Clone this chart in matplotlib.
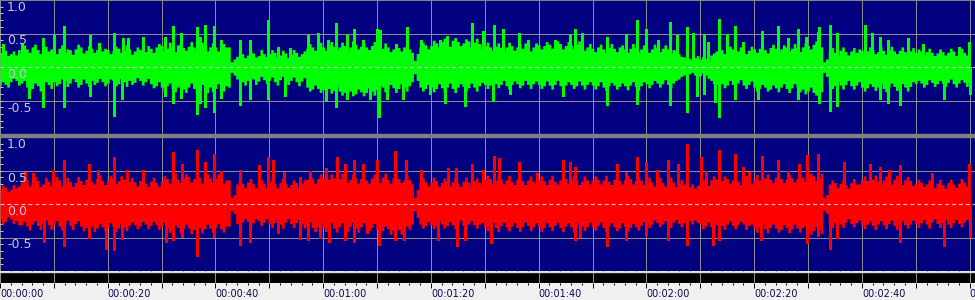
import numpy as np
import matplotlib.pyplot as plt
from matplotlib.patches import Rectangle

plt.rcParams['font.family'] = ['DejaVu Sans']
plt.rcParams['lines.scale_dashes'] = False

# envelope: one value on each whole second (0..180 s)
# and one on each half second in between (0.5..179.5 s)
seconds = np.arange(181)
half_seconds = np.arange(180) + 0.5

green_upper = [
    0.22, 0.25, 0.2, 0.18, 0.2, 0.27, 0.3, 0.26, 0.28, 0.24,
    0.25, 0.28, 0.22, 0.26, 0.27, 0.3, 0.25, 0.28, 0.26, 0.24,
    0.26, 0.24, 0.28, 0.25, 0.27, 0.24, 0.26, 0.23, 0.28, 0.3,
    0.32, 0.28, 0.3, 0.33, 0.29, 0.31, 0.3, 0.28, 0.32, 0.3,
    0.3, 0.28, 0.3, 0.08, 0.16, 0.2, 0.18, 0.21, 0.17, 0.2,
    0.2, 0.22, 0.18, 0.21, 0.19, 0.22, 0.2, 0.28, 0.3, 0.32,
    0.3, 0.33, 0.31, 0.3, 0.32, 0.3, 0.34, 0.31, 0.3, 0.32,
    0.3, 0.28, 0.3, 0.27, 0.29, 0.3, 0.27, 0.1, 0.3, 0.33,
    0.32, 0.36, 0.38, 0.37, 0.4, 0.38, 0.36, 0.39, 0.37, 0.35,
    0.32, 0.3, 0.31, 0.29, 0.3, 0.32, 0.3, 0.28, 0.31, 0.3,
    0.33, 0.32, 0.34, 0.33, 0.35, 0.32, 0.33, 0.34, 0.32, 0.3,
    0.28, 0.3, 0.27, 0.29, 0.28, 0.3, 0.27, 0.28, 0.29, 0.27,
    0.28, 0.27, 0.29, 0.28, 0.27, 0.26, 0.2, 0.15, 0.13, 0.14,
    0.12, 0.13, 0.18, 0.24, 0.26, 0.25, 0.27, 0.24, 0.26, 0.25,
    0.27, 0.28, 0.26, 0.29, 0.28, 0.27, 0.3, 0.28, 0.29, 0.3,
    0.32, 0.34, 0.33, 0.08, 0.24, 0.22, 0.25, 0.23, 0.24, 0.22,
    0.25, 0.24, 0.26, 0.23, 0.25, 0.26, 0.24, 0.25, 0.23, 0.24,
    0.22, 0.24, 0.23, 0.22, 0.21, 0.23, 0.22, 0.24, 0.23, 0.22, 0.24,
]
green_upper_half = [
    0.3, 0.17, 0.24, 0.26, 0.33, 0.22, 0.34, 0.2, 0.31, 0.27,
    0.2, 0.33, 0.27, 0.19, 0.34, 0.21, 0.32, 0.22, 0.3, 0.28,
    0.2, 0.31, 0.22, 0.33, 0.19, 0.3, 0.2, 0.32, 0.22, 0.35,
    0.24, 0.37, 0.23, 0.36, 0.25, 0.38, 0.22, 0.37, 0.24, 0.36,
    0.24, 0.35, 0.3, 0.12, 0.24, 0.14, 0.25, 0.15, 0.26, 0.16,
    0.26, 0.15, 0.25, 0.14, 0.26, 0.16, 0.24, 0.35, 0.25, 0.37,
    0.25, 0.38, 0.26, 0.37, 0.25, 0.39, 0.27, 0.36, 0.26, 0.38,
    0.24, 0.36, 0.23, 0.35, 0.24, 0.34, 0.22, 0.2, 0.37, 0.27,
    0.4, 0.3, 0.43, 0.31, 0.44, 0.32, 0.42, 0.3, 0.43, 0.28,
    0.37, 0.25, 0.36, 0.24, 0.37, 0.25, 0.35, 0.36, 0.24, 0.36,
    0.27, 0.38, 0.28, 0.39, 0.27, 0.38, 0.28, 0.39, 0.25, 0.35,
    0.23, 0.34, 0.22, 0.35, 0.23, 0.33, 0.22, 0.35, 0.23, 0.33,
    0.22, 0.34, 0.23, 0.33, 0.21, 0.24, 0.16, 0.18, 0.1, 0.17,
    0.16, 0.1, 0.21, 0.3, 0.2, 0.31, 0.21, 0.3, 0.2, 0.31,
    0.22, 0.33, 0.21, 0.34, 0.22, 0.33, 0.24, 0.35, 0.23, 0.36,
    0.27, 0.39, 0.3, 0.12, 0.29, 0.17, 0.3, 0.18, 0.29, 0.27,
    0.19, 0.3, 0.2, 0.3, 0.19, 0.31, 0.2, 0.3, 0.18, 0.29,
    0.27, 0.18, 0.28, 0.17, 0.27, 0.18, 0.28, 0.17, 0.28, 0.18,
]
green_lower = [
    -0.28, -0.26, -0.22, -0.2, -0.24, -0.3, -0.32, -0.28, -0.3, -0.26,
    -0.22, -0.25, -0.2, -0.24, -0.22, -0.26, -0.24, -0.2, -0.23, -0.22,
    -0.24, -0.2, -0.25, -0.22, -0.2, -0.23, -0.2, -0.22, -0.25, -0.28,
    -0.3, -0.28, -0.32, -0.3, -0.33, -0.3, -0.32, -0.34, -0.33, -0.3,
    -0.32, -0.3, -0.28, -0.08, -0.18, -0.22, -0.2, -0.18, -0.21, -0.19,
    -0.2, -0.22, -0.19, -0.21, -0.2, -0.22, -0.21, -0.3, -0.33, -0.32,
    -0.34, -0.32, -0.35, -0.36, -0.38, -0.36, -0.4, -0.37, -0.38, -0.36,
    -0.34, -0.3, -0.33, -0.31, -0.32, -0.3, -0.28, -0.1, -0.3, -0.32,
    -0.3, -0.32, -0.31, -0.3, -0.32, -0.3, -0.29, -0.31, -0.3, -0.28,
    -0.26, -0.27, -0.25, -0.26, -0.28, -0.26, -0.25, -0.27, -0.26, -0.25,
    -0.26, -0.28, -0.27, -0.26, -0.28, -0.27, -0.26, -0.28, -0.27, -0.26,
    -0.27, -0.28, -0.3, -0.28, -0.27, -0.29, -0.28, -0.27, -0.29, -0.28,
    -0.25, -0.26, -0.24, -0.25, -0.26, -0.24, -0.18, -0.12, -0.1, -0.12,
    -0.13, -0.12, -0.2, -0.26, -0.25, -0.27, -0.26, -0.24, -0.27, -0.26,
    -0.3, -0.32, -0.3, -0.33, -0.31, -0.3, -0.32, -0.31, -0.3, -0.33,
    -0.36, -0.38, -0.37, -0.08, -0.26, -0.28, -0.27, -0.26, -0.28, -0.27,
    -0.3, -0.31, -0.29, -0.3, -0.32, -0.3, -0.29, -0.31, -0.3, -0.29,
    -0.25, -0.24, -0.26, -0.23, -0.25, -0.24, -0.23, -0.25, -0.24, -0.23, -0.24,
]
green_lower_half = [
    -0.22, -0.3, -0.17, -0.27, -0.2, -0.35, -0.24, -0.36, -0.22, -0.32,
    -0.28, -0.18, -0.29, -0.17, -0.3, -0.18, -0.29, -0.26, -0.17, -0.28,
    -0.18, -0.28, -0.17, -0.29, -0.26, -0.16, -0.27, -0.17, -0.31, -0.22,
    -0.36, -0.24, -0.37, -0.25, -0.38, -0.24, -0.39, -0.26, -0.38, -0.37,
    -0.25, -0.36, -0.3, -0.12, -0.14, -0.27, -0.15, -0.26, -0.14, -0.25,
    -0.15, -0.27, -0.14, -0.26, -0.15, -0.28, -0.16, -0.36, -0.27, -0.38,
    -0.28, -0.39, -0.29, -0.42, -0.3, -0.43, -0.33, -0.43, -0.31, -0.42,
    -0.27, -0.37, -0.26, -0.38, -0.25, -0.36, -0.22, -0.2, -0.36, -0.26,
    -0.37, -0.25, -0.37, -0.24, -0.38, -0.25, -0.36, -0.24, -0.36, -0.23,
    -0.32, -0.21, -0.31, -0.2, -0.33, -0.21, -0.31, -0.2, -0.32, -0.21,
    -0.32, -0.21, -0.33, -0.2, -0.33, -0.22, -0.32, -0.21, -0.33, -0.22,
    -0.33, -0.22, -0.35, -0.23, -0.33, -0.24, -0.34, -0.22, -0.35, -0.22,
    -0.31, -0.2, -0.3, -0.19, -0.31, -0.2, -0.14, -0.16, -0.08, -0.16,
    -0.09, -0.17, -0.25, -0.21, -0.31, -0.2, -0.32, -0.19, -0.32, -0.21,
    -0.36, -0.26, -0.36, -0.27, -0.37, -0.25, -0.38, -0.25, -0.37, -0.4,
    -0.3, -0.42, -0.37, -0.14, -0.32, -0.21, -0.33, -0.2, -0.33, -0.22,
    -0.36, -0.25, -0.35, -0.24, -0.37, -0.24, -0.35, -0.25, -0.36, -0.22,
    -0.2, -0.3, -0.19, -0.29, -0.2, -0.29, -0.18, -0.3, -0.19, -0.29,
]
red_upper = [
    0.23, 0.25, 0.22, 0.24, 0.33, 0.36, 0.32, 0.35, 0.3, 0.34,
    0.33, 0.36, 0.31, 0.34, 0.32, 0.35, 0.37, 0.34, 0.38, 0.35,
    0.36, 0.39, 0.35, 0.37, 0.34, 0.33, 0.35, 0.31, 0.34, 0.32,
    0.34, 0.38, 0.4, 0.37, 0.39, 0.41, 0.38, 0.4, 0.37, 0.39,
    0.38, 0.4, 0.36, 0.1, 0.3, 0.31, 0.33, 0.3, 0.32, 0.31,
    0.33, 0.3, 0.32, 0.31, 0.29, 0.32, 0.31, 0.37, 0.39, 0.38,
    0.4, 0.37, 0.39, 0.38, 0.4, 0.37, 0.39, 0.38, 0.36, 0.39,
    0.38, 0.4, 0.37, 0.39, 0.38, 0.36, 0.37, 0.1, 0.32, 0.34,
    0.33, 0.35, 0.32, 0.34, 0.33, 0.31, 0.34, 0.33, 0.35, 0.32,
    0.36, 0.38, 0.35, 0.37, 0.36, 0.34, 0.37, 0.35, 0.36, 0.34,
    0.36, 0.35, 0.37, 0.34, 0.36, 0.38, 0.35, 0.37, 0.34, 0.36,
    0.35, 0.37, 0.36, 0.34, 0.37, 0.35, 0.36, 0.38, 0.35, 0.36,
    0.34, 0.33, 0.35, 0.32, 0.34, 0.33, 0.31, 0.3, 0.26, 0.24,
    0.3, 0.34, 0.36, 0.37, 0.35, 0.38, 0.36, 0.34, 0.37, 0.35,
    0.38, 0.36, 0.39, 0.37, 0.4, 0.38, 0.37, 0.39, 0.38, 0.4,
    0.4, 0.42, 0.39, 0.1, 0.3, 0.32, 0.31, 0.29, 0.32, 0.3,
    0.36, 0.35, 0.37, 0.34, 0.36, 0.35, 0.37, 0.34, 0.36, 0.35,
    0.31, 0.33, 0.3, 0.32, 0.31, 0.29, 0.32, 0.3, 0.31, 0.33, 0.32,
]
red_upper_half = [
    0.28, 0.19, 0.29, 0.27, 0.4, 0.27, 0.41, 0.26, 0.4, 0.28,
    0.41, 0.27, 0.4, 0.26, 0.41, 0.29, 0.42, 0.3, 0.43, 0.29,
    0.43, 0.3, 0.42, 0.31, 0.4, 0.27, 0.41, 0.26, 0.4, 0.27,
    0.42, 0.31, 0.46, 0.32, 0.45, 0.33, 0.46, 0.31, 0.45, 0.33,
    0.45, 0.31, 0.36, 0.14, 0.36, 0.25, 0.38, 0.24, 0.37, 0.25,
    0.37, 0.24, 0.38, 0.25, 0.36, 0.24, 0.36, 0.44, 0.31, 0.45,
    0.32, 0.45, 0.31, 0.46, 0.32, 0.45, 0.31, 0.44, 0.31, 0.45,
    0.32, 0.46, 0.31, 0.45, 0.32, 0.44, 0.3, 0.22, 0.39, 0.27,
    0.4, 0.27, 0.39, 0.27, 0.4, 0.26, 0.4, 0.27, 0.39, 0.26,
    0.43, 0.3, 0.42, 0.3, 0.43, 0.29, 0.43, 0.29, 0.42, 0.3,
    0.42, 0.29, 0.43, 0.3, 0.42, 0.31, 0.43, 0.29, 0.42, 0.3,
    0.42, 0.3, 0.43, 0.29, 0.42, 0.3, 0.43, 0.3, 0.41, 0.29,
    0.4, 0.27, 0.4, 0.27, 0.4, 0.26, 0.37, 0.24, 0.3, 0.28,
    0.37, 0.28, 0.42, 0.3, 0.42, 0.31, 0.42, 0.29, 0.43, 0.3,
    0.44, 0.31, 0.45, 0.32, 0.46, 0.32, 0.44, 0.33, 0.45, 0.34,
    0.46, 0.35, 0.46, 0.14, 0.36, 0.25, 0.37, 0.24, 0.38, 0.3,
    0.42, 0.29, 0.43, 0.29, 0.42, 0.3, 0.43, 0.29, 0.41, 0.28,
    0.37, 0.26, 0.36, 0.25, 0.37, 0.24, 0.37, 0.25, 0.38, 0.27,
]
red_lower = [
    -0.24, -0.26, -0.22, -0.25, -0.31, -0.33, -0.3, -0.32, -0.29, -0.31,
    -0.31, -0.33, -0.3, -0.32, -0.29, -0.33, -0.35, -0.33, -0.36, -0.34,
    -0.35, -0.33, -0.36, -0.34, -0.32, -0.31, -0.33, -0.3, -0.32, -0.31,
    -0.33, -0.36, -0.38, -0.35, -0.37, -0.36, -0.38, -0.35, -0.37, -0.36,
    -0.35, -0.37, -0.33, -0.1, -0.29, -0.27, -0.26, -0.28, -0.25, -0.27,
    -0.29, -0.28, -0.3, -0.27, -0.29, -0.28, -0.3, -0.33, -0.35, -0.34,
    -0.35, -0.33, -0.36, -0.34, -0.35, -0.33, -0.36, -0.34, -0.33, -0.35,
    -0.38, -0.4, -0.37, -0.39, -0.38, -0.4, -0.38, -0.1, -0.3, -0.32,
    -0.31, -0.33, -0.3, -0.32, -0.31, -0.29, -0.32, -0.3, -0.31, -0.3,
    -0.34, -0.33, -0.35, -0.32, -0.34, -0.33, -0.35, -0.34, -0.32, -0.34,
    -0.33, -0.35, -0.34, -0.32, -0.35, -0.33, -0.34, -0.36, -0.33, -0.34,
    -0.34, -0.32, -0.35, -0.33, -0.34, -0.36, -0.33, -0.35, -0.34, -0.32,
    -0.29, -0.3, -0.28, -0.3, -0.29, -0.27, -0.29, -0.28, -0.25, -0.24,
    -0.3, -0.33, -0.34, -0.31, -0.32, -0.3, -0.32, -0.31, -0.3, -0.32,
    -0.36, -0.34, -0.37, -0.35, -0.36, -0.38, -0.35, -0.37, -0.36, -0.35,
    -0.39, -0.4, -0.38, -0.1, -0.29, -0.28, -0.3, -0.27, -0.29, -0.28,
    -0.31, -0.3, -0.32, -0.3, -0.31, -0.29, -0.32, -0.3, -0.31, -0.3,
    -0.29, -0.28, -0.3, -0.27, -0.29, -0.28, -0.3, -0.28, -0.29, -0.27, -0.29,
]
red_lower_half = [
    -0.3, -0.19, -0.29, -0.31, -0.26, -0.39, -0.25, -0.38, -0.24, -0.38,
    -0.25, -0.39, -0.24, -0.38, -0.25, -0.4, -0.29, -0.41, -0.29, -0.4,
    -0.28, -0.41, -0.29, -0.4, -0.27, -0.37, -0.26, -0.37, -0.26, -0.38,
    -0.27, -0.42, -0.31, -0.43, -0.3, -0.44, -0.31, -0.43, -0.3, -0.42,
    -0.29, -0.42, -0.33, -0.14, -0.34, -0.22, -0.33, -0.22, -0.32, -0.22,
    -0.35, -0.23, -0.36, -0.22, -0.35, -0.23, -0.36, -0.27, -0.41, -0.28,
    -0.41, -0.28, -0.42, -0.28, -0.41, -0.27, -0.42, -0.28, -0.4, -0.29,
    -0.44, -0.33, -0.45, -0.32, -0.45, -0.33, -0.3, -0.2, -0.36, -0.26,
    -0.37, -0.25, -0.36, -0.26, -0.37, -0.24, -0.38, -0.25, -0.36, -0.27,
    -0.4, -0.28, -0.41, -0.27, -0.4, -0.28, -0.41, -0.27, -0.4, -0.28,
    -0.41, -0.28, -0.4, -0.27, -0.41, -0.28, -0.42, -0.28, -0.4, -0.27,
    -0.39, -0.27, -0.41, -0.28, -0.4, -0.28, -0.41, -0.29, -0.39, -0.26,
    -0.35, -0.24, -0.34, -0.25, -0.35, -0.23, -0.34, -0.22, -0.3, -0.28,
    -0.37, -0.27, -0.4, -0.26, -0.38, -0.25, -0.37, -0.26, -0.38, -0.3,
    -0.42, -0.29, -0.43, -0.3, -0.42, -0.31, -0.43, -0.3, -0.42, -0.32,
    -0.45, -0.34, -0.44, -0.14, -0.35, -0.23, -0.35, -0.22, -0.34, -0.24,
    -0.37, -0.25, -0.38, -0.25, -0.37, -0.24, -0.38, -0.25, -0.36, -0.24,
    -0.35, -0.23, -0.36, -0.22, -0.35, -0.23, -0.35, -0.23, -0.34, -0.23,
]

# single tall peaks sticking out of the envelope
green_peak_t = [0.6, 4.0, 8.0, 10.0, 11.9, 16.7, 18.4, 21.2, 22.9, 23.7, 26.6, 30.7,
                32.2, 33.6, 36.5, 37.1, 38.0, 39.8, 41.1, 44.5, 46.4, 49.8, 51.6, 53.8,
                57.2, 59.0, 60.9, 62.3, 64.4, 65.7, 67.4, 69.9, 70.5, 73.6, 75.5, 78.1,
                81.6, 82.9, 87.6, 89.6, 91.7, 93.3, 96.3, 98.0, 103.0, 105.8, 106.7, 108.0,
                112.6, 116.3, 118.2, 120.0, 122.1, 124.3, 125.6, 127.5, 128.6, 130.6, 131.4,
                133.4, 134.9, 136.5, 137.9, 141.4, 144.5, 146.2, 148.2, 149.7, 151.8, 152.0,
                154.0, 155.3, 160.5, 161.8, 163.3, 164.8, 168.6, 171.4, 178.1, 179.8]
green_peak_v = [0.35, 0.35, 0.43, 0.48, 0.61, 0.48, 0.36, 0.51, 0.43, 0.43, 0.45, 0.45,
                0.61, 0.51, 0.6, 0.45, 0.62, 0.61, 0.41, 0.4, 0.41, 0.7, 0.3, 0.28,
                0.48, 0.51, 0.4, 0.65, 0.48, 0.56, 0.4, 0.56, 0.55, 0.35, 0.59, 0.41,
                0.4, 0.46, 0.65, 0.53, 0.62, 0.57, 0.51, 0.4, 0.41, 0.5, 0.56, 0.51,
                0.45, 0.5, 0.7, 0.57, 0.4, 0.67, 0.48, 0.6, 0.51, 0.5, 0.38,
                0.71, 0.5, 0.61, 0.38, 0.53, 0.61, 0.43, 0.57, 0.45, 0.52, 0.6,
                0.62, 0.51, 0.62, 0.51, 0.45, 0.4, 0.43, 0.35, 0.3, 0.38]
green_dip_t = [5.3, 8.0, 11.9, 16.7, 21.2, 22.6, 30.7, 32.2, 33.6, 36.5, 37.1, 38.0,
               39.8, 41.1, 44.5, 46.4, 49.8, 52.9, 60.6, 62.3, 64.4, 68.6, 70.3, 71.8,
               74.8, 79.8, 82.7, 86.3, 91.5, 94.6, 104.5, 112.6, 118.2, 124.3, 127.5,
               129.3, 130.6, 132.7, 133.4, 136.5, 140.7, 148.2, 152.0, 154.0, 155.3,
               163.3, 164.8, 167.0, 175.3, 180.0]
green_dip_v = [-0.46, -0.59, -0.59, -0.43, -0.73, -0.48, -0.43, -0.53, -0.46, -0.7, -0.53, -0.59,
               -0.67, -0.46, -0.57, -0.48, -0.48, -0.43, -0.5, -0.59, -0.48, -0.48, -0.75, -0.48,
               -0.48, -0.41, -0.53, -0.58, -0.5, -0.41, -0.43, -0.57, -0.55, -0.57, -0.67,
               -0.43, -0.41, -0.52, -0.74, -0.48, -0.48, -0.48, -0.53, -0.65, -0.58,
               -0.48, -0.53, -0.57, -0.48, -0.41]

red_peak_t = [4.6, 6.2, 9.9, 11.9, 16.6, 18.2, 21.2, 23.5, 26.6, 32.2, 33.7, 36.5,
              38.0, 39.8, 41.1, 44.5, 48.1, 49.8, 50.7, 52.7, 55.7, 57.5, 60.6, 62.5,
              64.0, 65.7, 67.3, 69.9, 73.3, 75.3, 78.1, 83.1, 84.6, 87.6, 89.6, 91.7,
              92.6, 96.3, 99.6, 104.5, 105.8, 106.7, 114.5, 116.3, 118.2, 119.9, 121.9,
              124.1, 125.8, 127.5, 130.2, 131.1, 133.4, 136.5, 137.9, 139.1, 141.5, 144.5,
              146.2, 148.4, 149.9, 151.8, 156.6, 161.6, 163.3, 165.1, 167.0, 173.1, 179.8]
red_peak_v = [0.48, 0.46, 0.51, 0.65, 0.6, 0.51, 0.7, 0.51, 0.51, 0.78, 0.6, 0.8,
              0.63, 0.75, 0.5, 0.51, 0.58, 0.7, 0.65, 0.48, 0.41, 0.5, 0.53, 0.7,
              0.6, 0.65, 0.6, 0.65, 0.79, 0.65, 0.51, 0.53, 0.54, 0.6, 0.51, 0.72,
              0.68, 0.63, 0.46, 0.65, 0.63, 0.55, 0.6, 0.48, 0.7, 0.63, 0.51,
              0.65, 0.6, 0.9, 0.7, 0.5, 0.81, 0.75, 0.55, 0.48, 0.71, 0.66,
              0.5, 0.6, 0.73, 0.74, 0.63, 0.6, 0.55, 0.51, 0.58, 0.46, 0.6]
red_dip_t = [8.2, 11.9, 16.6, 19.7, 21.2, 22.6, 30.9, 32.2, 33.7, 36.5, 39.8, 44.6,
             46.4, 51.6, 55.7, 57.1, 59.4, 61.1, 64.0, 65.7, 68.1, 70.3, 73.3, 75.0,
             81.3, 84.8, 86.3, 91.2, 106.7, 107.6, 112.6, 116.3, 119.9, 124.1, 127.5,
             132.3, 133.4, 141.3, 149.9, 151.8, 154.0, 155.3, 167.0, 175.3, 180.0]
red_dip_v = [-0.56, -0.63, -0.51, -0.67, -0.69, -0.52, -0.56, -0.53, -0.49, -0.77, -0.49, -0.61,
             -0.56, -0.44, -0.52, -0.53, -0.5, -0.56, -0.53, -0.56, -0.44, -0.61, -0.53, -0.53,
             -0.53, -0.63, -0.53, -0.58, -0.53, -0.49, -0.63, -0.53, -0.46, -0.53, -0.61,
             -0.61, -0.53, -0.53, -0.58, -0.48, -0.67, -0.51, -0.56, -0.63, -0.49]

level_values = [1.0, 0.5, 0.0, -0.5]
level_labels = ['1.0', '0.5', '0.0', '-0.5']

time_ticks = [0, 10, 20, 30, 40, 50, 60, 70, 80, 90, 100, 110, 120, 130, 140, 150, 160, 170, 180]
time_labels = ['00:00:00', '', '00:00:20', '', '00:00:40', '', '00:01:00', '', '00:01:20', '',
               '00:01:40', '', '00:02:00', '', '00:02:20', '', '00:02:40', '', '00:03:00']

XMAX = 181.0
NAVY = '#000080'
GRID = '#8c8c8c'

fig = plt.figure(figsize=(9.75, 3.0), dpi=100, facecolor='#f0f0f0')
H = 300.0

# gray band between the two channels
fig.patches.append(Rectangle((0, (H - 137) / H), 1, 3 / H, transform=fig.transFigure,
                             color='#808080', zorder=0))

ax_top = fig.add_axes([0, (H - 134) / H, 1, 134 / H])
ax_bot = fig.add_axes([0, (H - 271) / H, 1, 134 / H], sharex=ax_top)
ax_bar = fig.add_axes([0, (H - 283) / H, 1, 11 / H], sharex=ax_top)


def merge(whole, half):
    t = np.concatenate([seconds, half_seconds])
    v = np.concatenate([whole, half])
    order = np.argsort(t)
    return t[order], v[order]


def draw_channel(ax, upper, upper_half, lower, lower_half,
                 peak_t, peak_v, dip_t, dip_v, colour):
    ax.set_facecolor(NAVY)
    ax.set_xlim(0, XMAX)
    ax.set_ylim(-1, 1)
    for t in time_ticks:
        ax.axvline(t, color=GRID, lw=0.72, zorder=1, antialiased=False)
    for v in (0.5, -0.5):
        ax.axhline(v, color=GRID, lw=0.72, zorder=1, antialiased=False)
    t, up = merge(upper, upper_half)
    _, lo = merge(lower, lower_half)
    ax.fill_between(t, lo, up, step='mid', color=colour, lw=0, zorder=2,
                    antialiased=False)
    ax.vlines(peak_t, 0, peak_v, color=colour, lw=0.9, zorder=2, antialiased=False)
    ax.vlines(dip_t, dip_v, 0, color=colour, lw=0.9, zorder=2, antialiased=False)
    ax.axhline(0, color='#c8c8c8', lw=0.8, ls=(0, (3, 2)), zorder=3)
    for v, lbl in zip(level_values, level_labels):
        ax.annotate(lbl, xy=(0, v), xycoords=('axes fraction', 'data'),
                    xytext=(7, -1), textcoords='offset pixels', ha='left', va='top',
                    color='#c8c8e0', fontsize=9, zorder=4)
    ax.set_yticks(np.arange(-0.9, 0.95, 0.1))
    ax.tick_params(axis='y', direction='in', length=2.2, width=0.7, color='#c8c8e0',
                   labelleft=False)
    ax.tick_params(axis='x', length=0, labelbottom=False)
    for s in ax.spines.values():
        s.set_visible(False)


draw_channel(ax_top, green_upper, green_upper_half, green_lower, green_lower_half,
             green_peak_t, green_peak_v, green_dip_t, green_dip_v, '#00ff00')
draw_channel(ax_bot, red_upper, red_upper_half, red_lower, red_lower_half,
             red_peak_t, red_peak_v, red_dip_t, red_dip_v, '#ff0000')
ax_top.spines['top'].set_visible(True)
ax_top.spines['top'].set_color('#808080')
ax_top.spines['top'].set_linewidth(1.5)

# black ruler strip with the time scale beneath
ax_bar.set_facecolor('black')
ax_bar.set_ylim(0, 1)
for t in time_ticks:
    ax_bar.axvline(t, color=GRID, lw=0.72, antialiased=False)
for s in ax_bar.spines.values():
    s.set_visible(False)
ax_bar.spines['top'].set_visible(True)
ax_bar.spines['top'].set_color('#d8d8d8')
ax_bar.spines['top'].set_linewidth(1.0)
ax_bar.set_yticks([])
ax_bar.set_xticks(time_ticks)
ax_bar.set_xticklabels(time_labels)
ax_bar.set_xticks(np.arange(0, 182, 2), minor=True)
ax_bar.tick_params(axis='x', which='major', direction='out', length=3.6, width=0.7,
                   color='black', pad=1, labelsize=7, labelcolor='#0a0a50')
ax_bar.tick_params(axis='x', which='minor', direction='out', length=1.4, width=0.7,
                   color='black')
for lbl in ax_bar.get_xticklabels():
    lbl.set_ha('left')
ax_bar.set_xlim(0, XMAX)

fig.savefig('out.png', dpi=100, facecolor=fig.get_facecolor())
